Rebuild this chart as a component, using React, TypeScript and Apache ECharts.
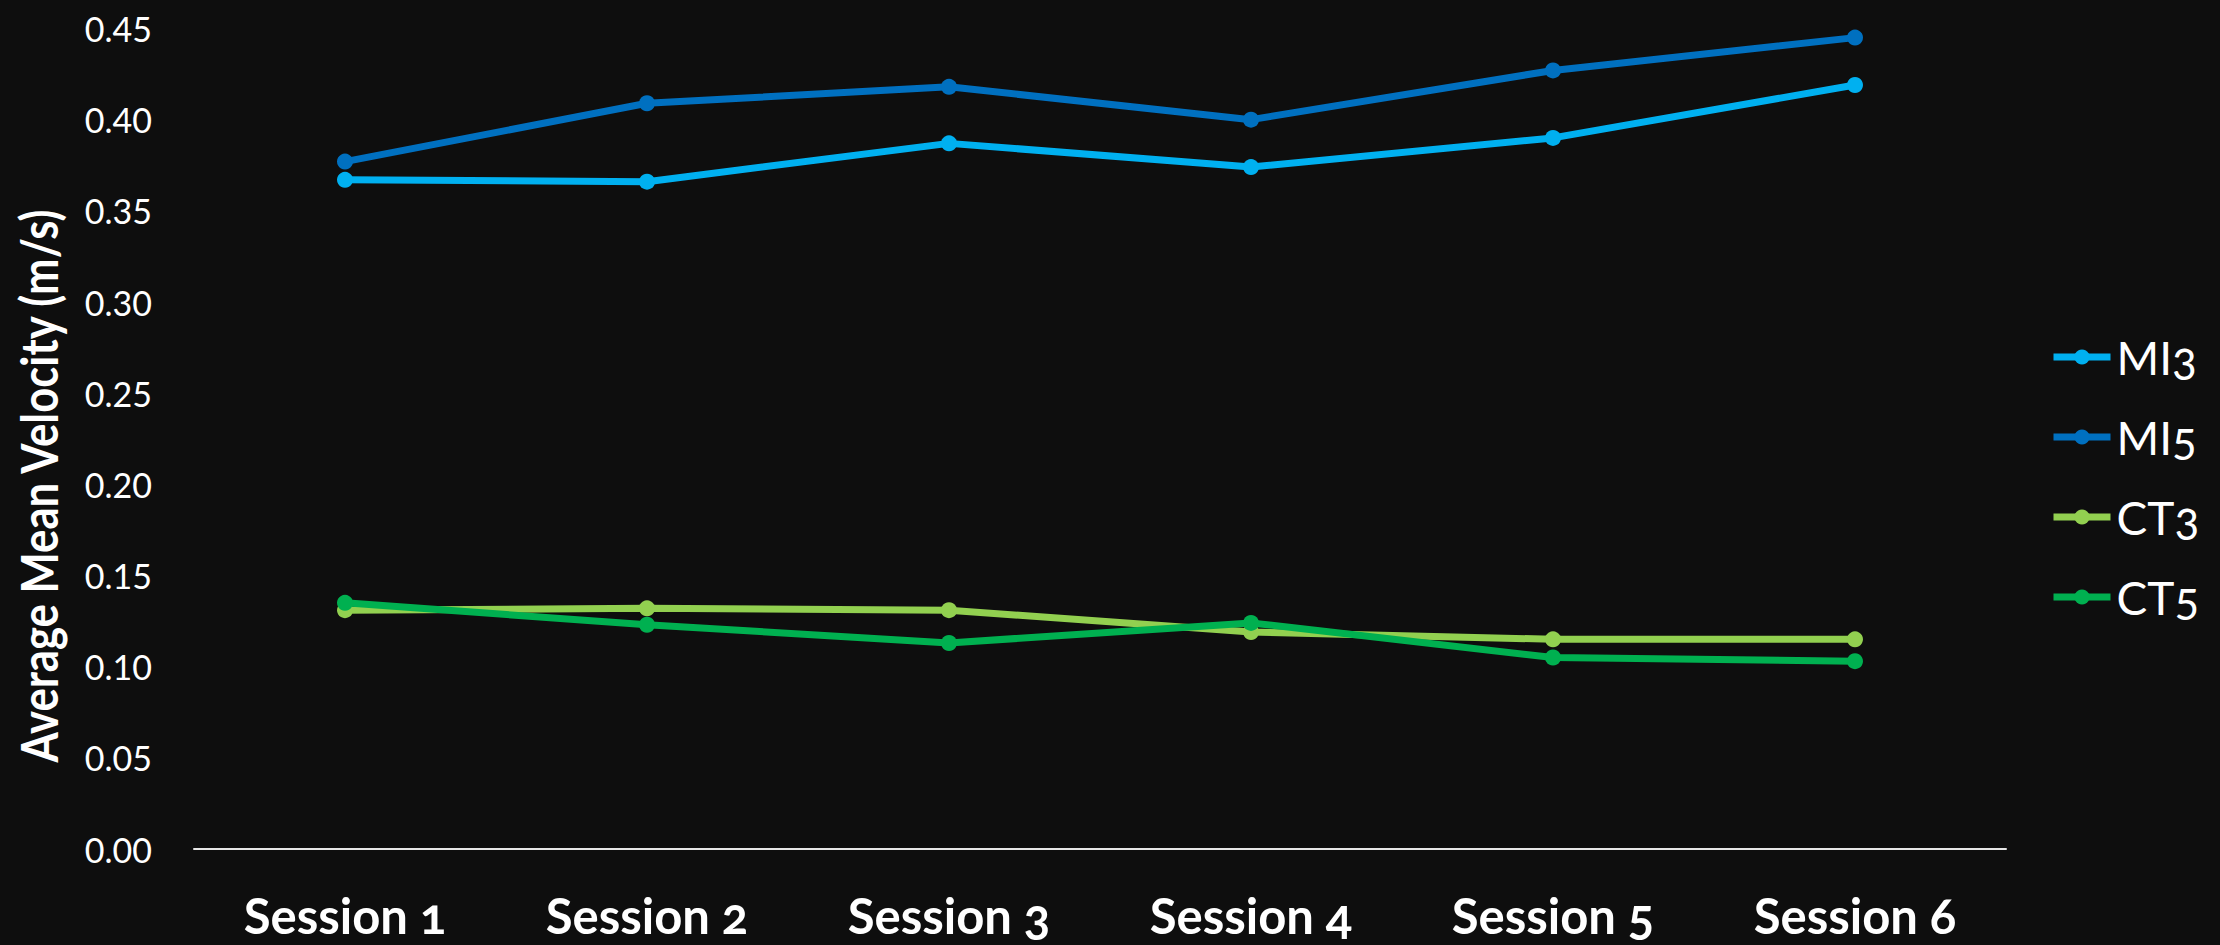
import React, { useEffect, useRef } from "react";
import * as echarts from "echarts";

const sessions = ["Session 1", "Session 2", "Session 3", "Session 4", "Session 5", "Session 6"];
const seriesNames = ["MI3", "MI5", "CT3", "CT5"];
const mi3 = [0.367, 0.366, 0.387, 0.374, 0.39, 0.419];
const mi5 = [0.377, 0.409, 0.418, 0.4, 0.427, 0.445];
const ct3 = [0.131, 0.132, 0.131, 0.119, 0.115, 0.115];
const ct5 = [0.135, 0.123, 0.113, 0.124, 0.105, 0.103];
const seriesColors = ["#00b0f0", "#0070c0", "#92d050", "#00b050"];

// Text drawn with this family gets old-style figures via the CSS rule below
const OLDSTYLE_FONT = "Lato, sans-serif";
const LINING_FONT = "Lato";

export default function App() {
  const ref = useRef<HTMLDivElement>(null);

  useEffect(() => {
    if (!ref.current) return;
    const chart = echarts.init(ref.current, undefined, { renderer: "svg" });
    const values = [mi3, mi5, ct3, ct5];

    chart.setOption({
      animation: false,
      backgroundColor: "#0e0e0e",
      grid: { left: 194, right: 214, top: 28.5, bottom: 96 },
      legend: {
        orient: "vertical",
        left: 2045,
        top: 329,
        itemWidth: 57,
        itemHeight: 19,
        itemGap: 34,
        data: seriesNames,
        lineStyle: { width: 7 },
        textStyle: { color: "#ffffff", fontSize: 46, fontFamily: OLDSTYLE_FONT, padding: [0, 0, 0, 1] },
      },
      xAxis: {
        type: "category",
        data: sessions,
        axisLine: { show: true, lineStyle: { color: "#e6e6e6", width: 2 } },
        axisTick: { show: false },
        splitLine: { show: false },
        axisLabel: {
          color: "#ffffff",
          fontSize: 49,
          lineHeight: 44,
          fontWeight: "bold",
          fontFamily: OLDSTYLE_FONT,
          margin: 44,
        },
      },
      yAxis: {
        type: "value",
        min: 0,
        max: 0.45,
        interval: 0.05,
        axisLine: { show: false },
        axisTick: { show: false },
        splitLine: { show: false },
        axisLabel: {
          color: "#ffffff",
          fontSize: 34,
          fontFamily: LINING_FONT,
          margin: 42,
          formatter: (v: number) => v.toFixed(2),
        },
      },
      graphic: [
        {
          type: "text",
          x: 38,
          y: 486,
          rotation: Math.PI / 2,
          scaleX: 0.84,
          style: {
            text: "Average Mean Velocity (m/s)",
            fill: "#ffffff",
            font: "bold 52px Lato",
            textAlign: "center",
            textVerticalAlign: "middle",
          },
        },
      ],
      series: seriesNames.map((name, i) => ({
        name,
        type: "line",
        data: values[i],
        symbol: "circle",
        symbolSize: 16,
        lineStyle: { width: 7, color: seriesColors[i] },
        itemStyle: { color: seriesColors[i] },
      })),
    });

    return () => chart.dispose();
  }, []);

  return (
    <>
      <style>{`text[style*="sans-serif"]{font-feature-settings:"onum" 1;font-variant-numeric:oldstyle-nums;}`}</style>
      <div
        ref={ref}
        style={{ position: "fixed", left: 0, top: 0, width: 2220, height: 945 }}
      />
    </>
  );
}
